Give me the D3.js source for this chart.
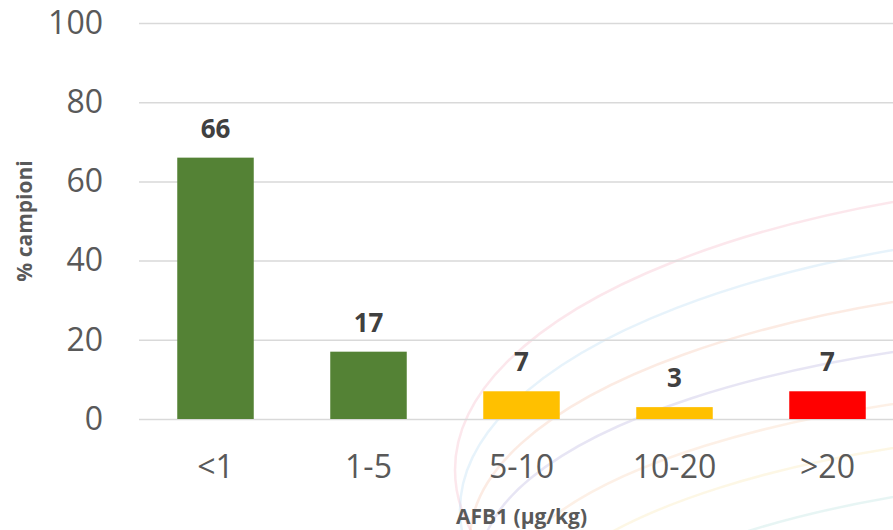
<!DOCTYPE html>
<html>
<head>
<meta charset="utf-8">
<script src="https://cdn.jsdelivr.net/npm/d3@7"></script>
<style>
  html, body { margin: 0; padding: 0; background: #fff; }
  svg { display: block; font-family: "Open Sans", sans-serif; }
</style>
</head>
<body>
<div id="chart"></div>
<script>
const categories = ["<1", "1-5", "5-10", "10-20", ">20"];
const values = [66, 17, 7, 3, 7];
const barColors = ["#548235", "#548235", "#FFC000", "#FFC000", "#FF0000"];
const yTicks = [0, 20, 40, 60, 80, 100];

const width = 893;
const height = 530;
const margin = { top: 23, left: 139, bottom: 111 };
const plotRight = 904;
const font = "'Open Sans', sans-serif";

const svg = d3.select("#chart")
    .append("svg")
    .attr("width", width)
    .attr("height", height);

// faint decorative swirls in the background
const swirls = [
    { left: 455, yl: 470, yr: 202, color: "#f3a9b9" },
    { left: 460, yl: 510, yr: 250, color: "#a9d3f0" },
    { left: 470, yl: 540, yr: 302, color: "#f5b89c" },
    { left: 480, yl: 565, yr: 352, color: "#aaa3d6" },
    { left: 500, yl: 600, yr: 404, color: "#f8c9a6" },
    { left: 520, yl: 640, yr: 448, color: "#f7e3a0" },
    { left: 540, yl: 690, yr: 497, color: "#a8dcd9" }
];
const cx = 1200;
svg.append("g")
    .selectAll("ellipse")
    .data(swirls)
    .enter()
    .append("ellipse")
    .attr("cx", cx)
    .attr("cy", d => d.yl)
    .attr("rx", d => cx - d.left)
    .attr("ry", d => {
        const rx = cx - d.left;
        const f = Math.sqrt(1 - Math.pow((cx - 893) / rx, 2));
        return (d.yl - d.yr) / f;
    })
    .style("fill", "none")
    .style("stroke", d => d.color)
    .style("stroke-width", 2.5)
    .style("opacity", 0.28);

const x = d3.scaleBand()
    .domain(categories)
    .range([margin.left, plotRight])
    .paddingInner(0.5)
    .paddingOuter(0.25);

const y = d3.scaleLinear()
    .domain([0, 100])
    .range([height - margin.bottom, margin.top]);

// y axis + gridlines
const yAxis = svg.append("g")
    .attr("transform", `translate(${margin.left},0)`)
    .attr("font-family", font)
    .call(d3.axisLeft(y)
        .tickValues(yTicks)
        .tickSize(-(plotRight - margin.left))
        .tickPadding(36));
yAxis.attr("font-family", font);
yAxis.select(".domain").remove();
yAxis.selectAll(".tick line")
    .style("stroke", "#d9d9d9")
    .style("stroke-width", 1.5);
yAxis.selectAll(".tick text")
    .style("font-family", font)
    .style("font-size", "32px")
    .style("fill", "#595959");

// bars
svg.selectAll("rect.bar")
    .data(values)
    .enter()
    .append("rect")
    .attr("class", "bar")
    .attr("x", (d, i) => x(categories[i]))
    .attr("width", x.bandwidth())
    .attr("y", d => y(d))
    .attr("height", d => y(0) - y(d))
    .style("fill", (d, i) => barColors[i]);

// value labels
svg.selectAll("text.val")
    .data(values)
    .enter()
    .append("text")
    .attr("class", "val")
    .attr("x", (d, i) => x(categories[i]) + x.bandwidth() / 2)
    .attr("y", d => y(d) - 20)
    .attr("text-anchor", "middle")
    .style("font-size", "26px")
    .style("font-weight", "bold")
    .style("fill", "#404040")
    .text(d => d);

// x axis
const xAxis = svg.append("g")
    .attr("transform", `translate(0,${y(0)})`)
    .call(d3.axisBottom(x).tickSize(0).tickPadding(36));
xAxis.attr("font-family", font);
xAxis.select(".domain").remove();
xAxis.selectAll(".tick text")
    .style("font-family", font)
    .style("font-size", "32px")
    .style("fill", "#595959");

// axis titles
svg.append("text")
    .attr("x", (margin.left + plotRight) / 2)
    .attr("y", 524)
    .attr("text-anchor", "middle")
    .style("font-size", "21px")
    .style("font-weight", "bold")
    .style("fill", "#595959")
    .text("AFB1 (µg/kg)");

svg.append("text")
    .attr("transform", "translate(32,221) rotate(-90)")
    .attr("text-anchor", "middle")
    .style("font-size", "21px")
    .style("font-weight", "bold")
    .style("fill", "#595959")
    .text("% campioni");
</script>
</body>
</html>
